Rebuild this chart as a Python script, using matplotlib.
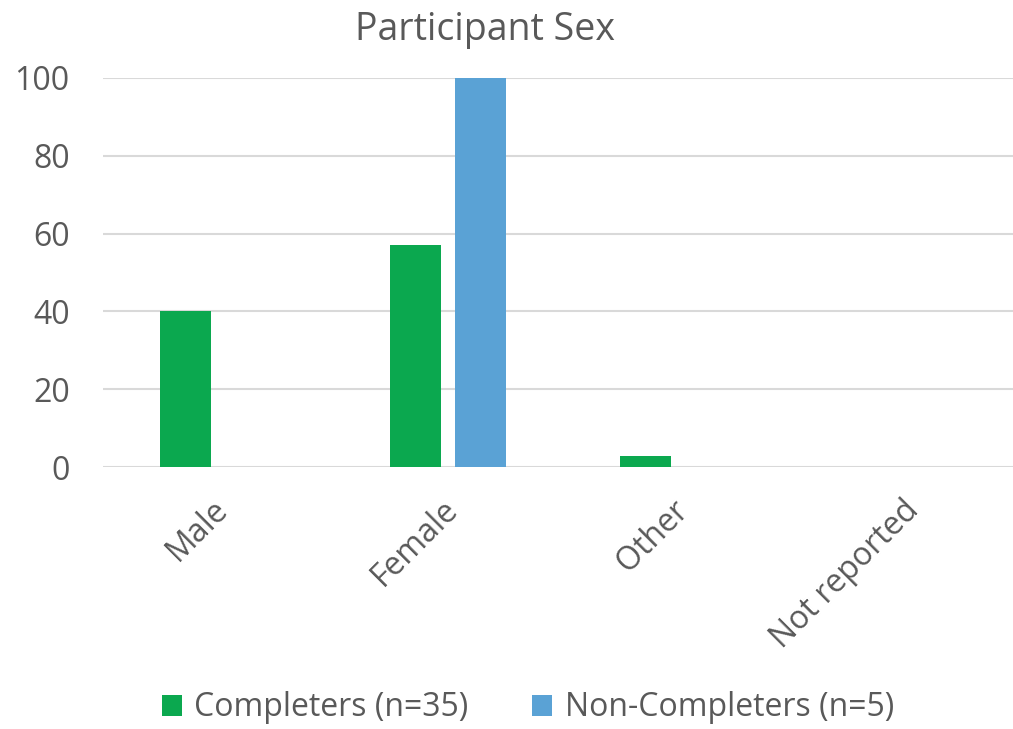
import numpy as np
import matplotlib.pyplot as plt
import matplotlib.transforms as mtransforms

# Participant sex, percentage of each group
categories = ["Male", "Female", "Other", "Not reported"]
completers = [40.0, 57.1, 2.9, 0.0]
non_completers = [0.0, 100.0, 0.0, 0.0]
series_labels = ["Completers (n=35)", "Non-Completers (n=5)"]

plt.rcParams["font.family"] = ["Open Sans", "DejaVu Sans"]
text_color = "#595959"
green = "#0ba84f"
blue = "#5aa2d5"

fig = plt.figure(figsize=(10.13, 7.29), dpi=100)
ax = fig.add_axes([103 / 1013, 1 - 467 / 729, 920 / 1013, 389 / 729])

x = np.arange(len(categories))
width = 0.222
offset = 0.141
ax.bar(x - offset, completers, width, color=green, label=series_labels[0], zorder=3)
ax.bar(x + offset, non_completers, width, color=blue, label=series_labels[1], zorder=3)

ax.set_xlim(-0.5, 3.5)
ax.set_ylim(0, 100)
ax.set_yticks(range(0, 101, 20))
ax.yaxis.grid(True, color="#d9d9d9", linewidth=1.5, zorder=0)
ax.set_axisbelow(True)
for s in ax.spines.values():
    s.set_visible(False)

ax.tick_params(axis="y", length=0, pad=24, labelsize=23, labelcolor=text_color)
ax.tick_params(axis="x", length=0, pad=19, labelsize=23, labelcolor=text_color)
ax.set_xticks(x)
ax.set_xticklabels(categories, rotation=45, ha="right", va="top", rotation_mode="anchor")
shift = mtransforms.ScaledTranslation(-6 / 100, 0, fig.dpi_scale_trans)
for lbl in ax.get_xticklabels():
    lbl.set_transform(lbl.get_transform() + shift)

fig.text(485 / 1013, 1 - 30 / 729, "Participant Sex", ha="center", va="center",
         fontsize=27, color=text_color)

leg = fig.legend(loc="center", bbox_to_anchor=(528 / 1013, 1 - 708 / 729), ncol=2,
                 frameon=False, fontsize=23, handlelength=0.62, handleheight=0.62,
                 handletextpad=0.4, columnspacing=2.0)
for t in leg.get_texts():
    t.set_color(text_color)

fig.savefig("out.png", dpi=100)
